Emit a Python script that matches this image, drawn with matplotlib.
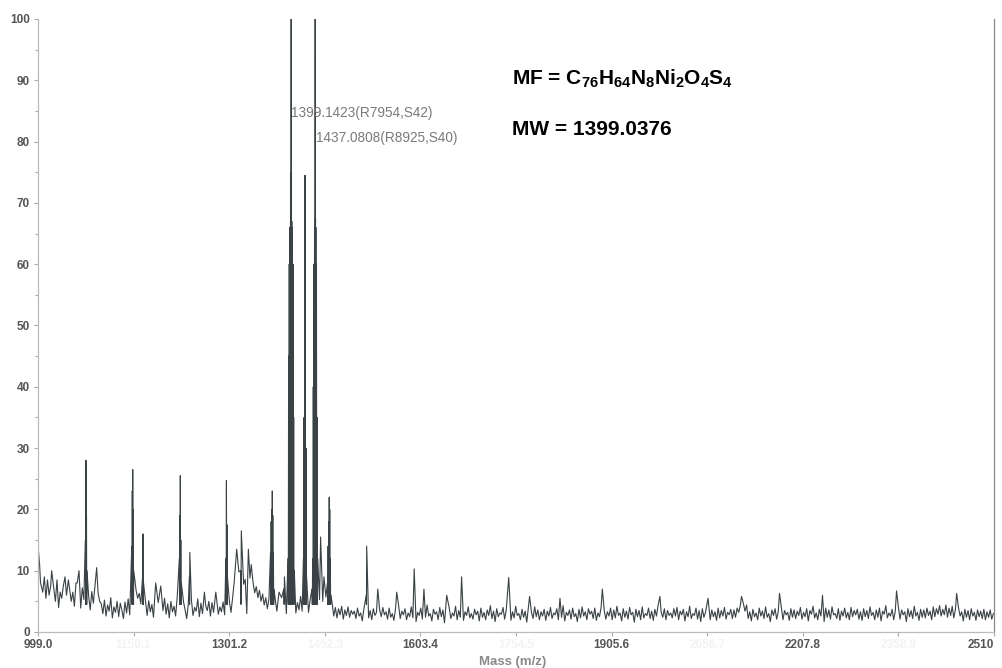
import numpy as np
import matplotlib.pyplot as plt

plt.rcParams['font.family'] = ['Liberation Sans', 'DejaVu Sans']
plt.rcParams['mathtext.fontset'] = 'custom'
plt.rcParams['mathtext.rm'] = 'Liberation Sans:bold'
plt.rcParams['mathtext.bf'] = 'Liberation Sans:bold'
plt.rcParams['mathtext.default'] = 'bf'

# noise floor, one reading every 2.5 m/z starting at 999.0
base_start, base_step = 999.0, 2.5
base_int = [
    # 999 - 1096.5
    12.5, 8.0, 10.5, 6.5, 9.0, 5.5, 8.5, 6.0, 7.5, 4.5,
    7.0, 5.0, 8.5, 4.0, 6.5, 5.5, 7.5, 4.5, 6.0, 3.8,
    7.0, 5.0, 6.5, 4.2, 8.0, 4.8, 6.2, 3.9, 7.2, 5.3,
    6.8, 4.4, 5.9, 3.6, 6.6, 4.7, 7.4, 4.1, 6.3, 5.0,
    # 1099 - 1196.5
    4.6, 3.0, 5.2, 2.6, 4.4, 3.4, 5.6, 2.3, 4.1, 3.2,
    5.0, 2.5, 4.7, 3.6, 2.2, 4.9, 3.1, 5.4, 2.8, 4.3,
    6.0, 5.2, 6.8, 5.5, 6.3, 4.6, 5.8, 3.4, 4.9, 2.7,
    5.1, 3.3, 4.5, 2.4, 5.3, 3.0, 4.8, 2.6, 4.0, 3.5,
    # 1199 - 1296.5
    5.5, 2.9, 4.6, 2.3, 5.0, 3.3, 4.2, 2.6, 5.7, 3.0,
    4.4, 2.4, 4.9, 3.6, 2.2, 4.5, 3.1, 5.2, 2.7, 4.0,
    3.4, 5.4, 2.5, 4.7, 3.0, 2.3, 4.3, 3.5, 5.0, 2.6,
    4.8, 3.2, 2.4, 5.3, 2.9, 4.1, 3.3, 4.9, 2.8, 4.4,
    # 1299 - 1396.5
    3.6, 5.0, 3.2, 5.5, 8.0, 9.5, 8.2, 9.8, 7.5, 9.0,
    7.8, 8.6, 3.0, 6.5, 8.8, 7.2, 8.0, 6.4, 7.4, 5.6,
    6.8, 5.0, 6.2, 4.4, 5.6, 3.8, 5.4, 4.2, 5.0, 3.6,
    5.3, 3.4, 4.8, 3.2, 5.6, 3.5, 4.6, 3.0, 5.2, 3.8,
    # 1399 - 1496.5
    4.5, 3.3, 5.4, 3.1, 4.8, 3.6, 5.8, 3.4, 5.0, 4.0,
    5.5, 3.2, 5.2, 3.5, 4.8, 4.0, 5.6, 3.8, 5.3, 3.4,
    5.0, 3.9, 5.7, 3.6, 4.9, 4.2, 4.6, 2.6, 4.0, 2.3,
    3.8, 2.8, 4.2, 2.1, 3.6, 2.7, 4.1, 2.4, 3.5, 2.9,
    # 1499 - 1596.5
    3.4, 2.2, 3.9, 2.6, 3.1, 1.8, 3.7, 2.9, 4.2, 2.3,
    3.5, 2.0, 3.8, 2.7, 3.2, 1.6, 3.6, 2.5, 4.0, 2.8,
    3.3, 2.1, 3.9, 2.4, 3.0, 1.9, 3.7, 2.6, 4.3, 2.2,
    3.4, 2.8, 3.8, 2.0, 3.1, 2.5, 4.1, 2.3, 3.6, 1.7,
    # 1599 - 1696.5
    3.2, 2.7, 3.9, 2.1, 3.5, 2.4, 4.4, 2.6, 3.0, 1.8,
    3.7, 2.9, 3.3, 2.0, 4.0, 2.5, 3.6, 1.5, 3.4, 2.8,
    3.9, 2.2, 3.1, 2.6, 4.2, 2.0, 3.5, 2.4, 3.8, 1.9,
    3.3, 2.7, 4.1, 2.3, 3.0, 2.1, 3.7, 2.8, 3.4, 1.8,
    # 1699 - 1796.5
    3.9, 2.4, 3.2, 2.0, 3.6, 2.7, 4.3, 2.2, 3.4, 1.7,
    3.8, 2.5, 3.1, 2.9, 4.0, 2.1, 3.5, 2.6, 3.9, 1.9,
    3.3, 2.3, 4.2, 2.7, 3.0, 2.0, 3.7, 2.4, 3.4, 1.6,
    3.9, 2.8, 3.2, 2.2, 4.1, 2.5, 3.6, 2.0, 3.3, 2.6,
    # 1799 - 1896.5
    3.7, 1.9, 3.4, 2.6, 4.0, 2.2, 3.1, 2.8, 3.8, 2.0,
    3.5, 2.4, 4.3, 1.8, 3.2, 2.7, 3.6, 2.1, 3.9, 2.5,
    3.0, 1.7, 3.7, 2.3, 4.1, 2.6, 3.3, 2.0, 3.8, 2.9,
    3.4, 2.2, 3.9, 1.9, 3.1, 2.5, 4.0, 2.4, 3.5, 2.1,
    # 1899 - 1996.5
    3.3, 2.6, 3.9, 2.0, 3.6, 2.3, 4.2, 2.7, 3.1, 1.8,
    3.8, 2.4, 3.4, 2.1, 4.0, 2.8, 3.2, 1.6, 3.7, 2.5,
    3.5, 2.0, 4.1, 2.3, 3.0, 2.7, 3.9, 2.2, 3.4, 1.9,
    3.7, 2.6, 4.3, 2.1, 3.2, 2.4, 3.8, 2.0, 3.5, 2.7,
    # 1999 - 2096.5
    3.1, 2.3, 3.8, 2.6, 4.0, 2.0, 3.4, 2.8, 3.7, 1.8,
    3.3, 2.5, 4.2, 2.2, 3.0, 2.7, 3.9, 2.1, 3.5, 1.7,
    3.8, 2.4, 3.2, 2.9, 4.1, 2.0, 3.6, 2.5, 3.3, 1.9,
    3.9, 2.3, 3.5, 2.6, 4.0, 2.1, 3.2, 2.8, 3.7, 2.2,
    # 2099 - 2196.5
    3.6, 2.4, 3.9, 3.2, 4.3, 3.6, 4.6, 3.4, 4.4, 2.2,
    3.3, 1.8, 3.7, 2.5, 3.1, 2.0, 3.9, 2.6, 3.4, 2.2,
    4.1, 2.4, 3.0, 1.7, 3.6, 2.7, 3.8, 2.1, 3.3, 2.5,
    4.0, 2.0, 3.5, 2.8, 3.2, 1.9, 3.8, 2.4, 3.6, 2.2,
    # 2199 - 2296.5
    3.4, 2.7, 4.0, 2.1, 3.2, 2.5, 3.8, 1.8, 3.5, 2.9,
    4.2, 2.3, 3.1, 2.0, 3.7, 2.6, 3.3, 1.7, 3.9, 2.4,
    3.6, 2.1, 4.1, 2.8, 3.0, 2.2, 3.8, 1.9, 3.4, 2.6,
    3.9, 2.3, 3.2, 2.0, 4.0, 2.5, 3.5, 2.8, 3.7, 2.1,
    # 2299 - 2396.5
    3.3, 1.9, 3.8, 2.5, 3.5, 2.2, 4.1, 2.7, 3.2, 2.0,
    3.6, 2.4, 3.9, 1.8, 3.4, 2.9, 4.3, 2.3, 3.1, 2.6,
    3.7, 2.0, 3.4, 2.4, 4.0, 2.1, 3.6, 2.8, 3.3, 1.7,
    3.8, 2.5, 3.5, 2.2, 4.2, 2.6, 3.2, 1.9, 3.7, 2.4,
    # 2399 - 2496.5
    3.6, 2.3, 3.9, 2.7, 3.4, 2.0, 4.1, 2.5, 3.8, 2.9,
    4.3, 2.6, 3.7, 2.8, 4.4, 2.4, 3.9, 2.7, 4.2, 2.3,
    3.6, 2.1, 3.9, 2.6, 3.3, 1.8, 3.7, 2.4, 3.5, 2.0,
    3.8, 2.6, 3.2, 1.9, 3.6, 2.5, 3.4, 2.2, 3.7, 2.0,
    # 2499 - 2509
    3.3, 2.4, 3.6, 2.1, 3.0,
]

# peak tops (isotope lines listed one by one for the big clusters)
peak_mz = [
    999.5, 1001.5, 1003.0, 1020.6, 1041.7, 1047.0, 1061.0, 1063.8,
    1073.8, 1074.8, 1075.6, 1076.4, 1089.5, 1091.7,
    1147.2, 1148.0, 1148.7, 1149.5, 1150.3, 1164.3, 1165.0, 1165.8, 1185.0, 1193.0,
    1222.4, 1223.2, 1223.9, 1224.7, 1225.5, 1238.2, 1238.9, 1262.0, 1280.0,
    1296.0, 1296.8, 1297.6, 1298.4, 1313.0, 1319.5, 1320.3, 1331.5, 1336.0,
    1366.5, 1367.5, 1368.5, 1369.3, 1370.1, 1371.0, 1372.0, 1380.0, 1387.5, 1388.5,
    1394.1, 1395.1, 1396.1, 1397.1, 1398.1, 1399.1423, 1399.6, 1400.1, 1401.1,
    1402.1, 1403.1, 1404.1,
    1418.5, 1419.5, 1420.5, 1421.0, 1421.5, 1422.5, 1423.5, 1432.0,
    1433.1, 1434.1, 1435.1, 1436.1, 1437.0808, 1437.6, 1438.1, 1439.1, 1440.1, 1441.1,
    1445.7, 1451.0, 1456.5, 1457.5, 1458.5, 1459.3, 1460.1, 1461.0, 1462.0,
    1517.8, 1518.5, 1536.0, 1566.0, 1593.6, 1609.0, 1645.0, 1668.5, 1743.0,
    1776.0, 1824.0, 1891.0, 1982.0, 2058.0, 2111.0, 2171.0, 2239.0, 2356.0, 2451.0,
]
peak_int = [
    13.5, 11.0, 8.0, 10.0, 9.0, 8.5, 8.0, 10.0,
    15.0, 28.0, 19.0, 10.0, 8.0, 10.5,
    14.0, 23.0, 26.5, 20.0, 10.0, 9.0, 16.0, 8.0, 8.0, 7.5,
    12.0, 19.0, 25.5, 15.0, 8.0, 9.0, 13.0, 6.5, 6.5,
    12.0, 24.7, 17.5, 9.0, 13.5, 10.0, 16.5, 13.5, 11.0,
    13.0, 18.0, 20.0, 23.0, 19.0, 13.0, 7.0, 6.5, 7.0, 9.0,
    12.0, 45.0, 60.0, 66.0, 67.0, 100.0, 75.0, 67.0, 66.0,
    60.0, 35.0, 10.0,
    12.0, 35.0, 51.0, 74.5, 50.0, 30.0, 9.0, 7.0,
    12.0, 40.0, 60.0, 66.0, 100.0, 67.5, 66.0, 60.0, 35.0, 12.0,
    15.5, 9.0, 8.0, 14.0, 18.0, 22.0, 20.0, 12.0, 6.0,
    6.0, 14.0, 7.0, 6.5, 10.3, 7.0, 6.0, 9.0, 8.9,
    5.8, 5.5, 7.0, 5.8, 5.5, 5.8, 6.3, 6.0, 6.7, 6.3,
]
valley_level = 4.5

labels = [(1399.1423, 'R7954,S42'), (1437.0808, 'R8925,S40')]

x_major = [999.0, 1301.2, 1603.4, 1905.6, 2207.8, 2510.0]
x_major_labels = ['999.0', '1301.2', '1603.4', '1905.6', '2207.8', '2510']
x_minor = [1150.1, 1452.3, 1754.5, 2056.7, 2358.9]

# merge the noise floor with the peaks into one trace
b_int = np.array(base_int)
b_mz = base_start + base_step * np.arange(b_int.size)

pk_mz = np.array(peak_mz)
pk_int = np.array(peak_int)
order = np.argsort(pk_mz)
pk_mz, pk_int = pk_mz[order], pk_int[order]

# resolved isotope lines drop back down between neighbours
close = np.diff(pk_mz) < 1.2
val_mz = ((pk_mz[:-1] + pk_mz[1:]) / 2)[close]
val_int = np.full(val_mz.size, valley_level)

keep = np.min(np.abs(b_mz[:, None] - pk_mz[None, :]), axis=1) > 1.6

mz = np.concatenate([b_mz[keep], pk_mz, val_mz])
inten = np.concatenate([b_int[keep], pk_int, val_int])
order = np.argsort(mz)
mz, inten = mz[order], inten[order]

fig = plt.figure(figsize=(10.03, 6.68), dpi=100)
ax = fig.add_axes([0.0379, 0.0539, 0.9531, 0.9177])

ax.plot(mz, inten, color='#3a4245', lw=0.8)

ax.set_xlim(999.0, 2510.0)
ax.set_ylim(0, 100)

ax.set_xticks(x_major, x_major_labels)
ax.set_xticks(x_minor, [f'{v:.1f}' for v in x_minor], minor=True)
ax.set_yticks(np.arange(0, 101, 10))
ax.set_yticks(np.arange(5, 100, 10), minor=True)

ax.tick_params(axis='both', which='both', direction='out', color='#aaaaaa',
               length=3, width=0.8, labelsize=8.5, labelcolor='#555555')
ax.tick_params(axis='x', which='both', pad=2)
ax.tick_params(axis='y', which='both', pad=3)
ax.tick_params(axis='y', which='minor', length=2)
ax.tick_params(axis='x', which='minor', labelcolor='#f3f3f3')
for lab in ax.get_xticklabels() + ax.get_yticklabels() + ax.get_xticklabels(minor=True):
    lab.set_fontweight('bold')
ax.get_xticklabels()[-1].set_horizontalalignment('right')

ax.spines['top'].set_visible(False)
for side in ['left', 'bottom']:
    ax.spines[side].set_color('#bbbbbb')
    ax.spines[side].set_linewidth(0.9)
ax.spines['right'].set_color('#888888')
ax.spines['right'].set_linewidth(0.9)

# peak labels
ax.text(labels[0][0] - 0.8, 84.7, f'{labels[0][0]:.4f}({labels[0][1]})',
        fontsize=9.8, color='#7a7a7a', ha='left', va='center')
ax.text(labels[1][0] + 1.2, 80.6, f'{labels[1][0]:.4f}({labels[1][1]})',
        fontsize=9.8, color='#7a7a7a', ha='left', va='center')

fig.text(0.5105, 1 - 85 / 668, 'MF = C$_{76}$H$_{64}$N$_{8}$Ni$_{2}$O$_{4}$S$_{4}$',
         fontsize=15, fontweight='bold', color='black', ha='left', va='baseline')
fig.text(0.5105, 1 - 135 / 668, 'MW = 1399.0376', fontsize=15, fontweight='bold',
         color='black', ha='left', va='baseline')

fig.text(0.5115, 1 - 661.7 / 668, 'Mass (m/z)', fontsize=9.5, fontweight='bold',
         color='#8a8a8a', ha='center', va='center')

fig.savefig('out.png', dpi=100, facecolor='white')
